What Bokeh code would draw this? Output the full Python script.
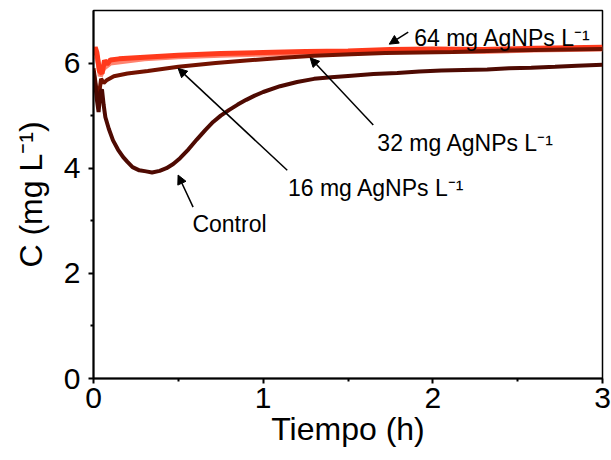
from bokeh.plotting import figure
from bokeh.models import Label, Arrow, NormalHead, FixedTicker, Range1d
from bokeh.embed import file_html
from bokeh.resources import INLINE

# ---- data ----
t_control = [0.00, 0.01, 0.02, 0.03, 0.04, 0.05, 0.06, 0.07, 0.09, 0.115, 0.145, 0.175, 0.20, 0.23,
             0.27, 0.31, 0.345, 0.39, 0.43, 0.47, 0.51, 0.56, 0.61, 0.66, 0.705, 0.75, 0.80, 0.85,
             0.90, 0.95, 1.00, 1.10, 1.20, 1.30, 1.40, 1.52, 1.65, 1.79, 1.92, 2.05, 2.18, 2.32,
             2.45, 2.58, 2.72, 2.85, 3.00]
c_control = [5.85, 5.60, 5.30, 5.07, 5.45, 5.50, 5.20, 4.97, 4.75, 4.53, 4.35, 4.21, 4.12, 4.02,
             3.96, 3.94, 3.92, 3.95, 4.00, 4.08, 4.19, 4.36, 4.55, 4.73, 4.88, 5.00, 5.11, 5.21,
             5.30, 5.38, 5.45, 5.56, 5.64, 5.70, 5.73, 5.76, 5.79, 5.81, 5.84, 5.86, 5.87, 5.88,
             5.90, 5.91, 5.93, 5.95, 5.97]

t_16 = [0.00, 0.015, 0.03, 0.045, 0.06, 0.08, 0.12, 0.20, 0.32, 0.50, 0.72, 0.90, 1.12, 1.30,
        1.52, 1.72, 1.92, 2.12, 2.32, 2.60, 2.80, 3.00]
c_16 = [5.90, 5.55, 5.35, 5.70, 5.62, 5.68, 5.75, 5.80, 5.85, 5.93, 6.00, 6.05, 6.10, 6.14,
        6.17, 6.19, 6.20, 6.21, 6.23, 6.25, 6.26, 6.27]

t_32 = [0.00, 0.02, 0.04, 0.06, 0.10, 0.30, 0.50, 0.75, 1.00, 1.25, 1.50, 1.75, 2.00, 2.30, 2.60, 3.00]
c_32 = [6.10, 6.15, 5.75, 5.90, 6.00, 6.08, 6.12, 6.15, 6.17, 6.19, 6.21, 6.22, 6.23, 6.22, 6.25, 6.27]

t_64 = [0.00, 0.01, 0.02, 0.035, 0.05, 0.065, 0.08, 0.10, 0.15, 0.30, 0.50, 0.75, 1.00, 1.25,
        1.50, 1.75, 2.00, 2.30, 2.60, 3.00]
c_64 = [6.15, 6.30, 6.20, 5.85, 5.80, 6.05, 5.98, 6.06, 6.08, 6.11, 6.15, 6.18, 6.20, 6.22,
        6.23, 6.26, 6.27, 6.26, 6.28, 6.30]

x_ticks = [0, 1, 2, 3]
y_ticks = [0, 2, 4, 6]

# annotations: (label, text x, text y, arrow tail x, tail y, arrow head x, head y)
ann_labels = ["64 mg AgNPs L\u207b\u00b9", "32 mg AgNPs L\u207b\u00b9", "16 mg AgNPs L\u207b\u00b9", "Control"]
ann_text_x = [1.89, 1.673, 1.146, 0.583]
ann_text_y = [6.48, 4.48, 3.62, 2.93]
arr_tail_x = [1.855, 1.649, 1.142, 0.587]
arr_tail_y = [6.59, 4.82, 3.96, 3.26]
arr_head_x = [1.743, 1.277, 0.4985, 0.4985]
arr_head_y = [6.36, 6.10, 5.90, 3.87]

FONT = "Liberation Sans"

p = figure(width=611, height=460, output_backend="svg", toolbar_location=None,
           x_range=Range1d(0, 3), y_range=Range1d(0, 7),
           min_border_left=93, min_border_right=9, min_border_top=10, min_border_bottom=82)
p.background_fill_color = "white"
p.border_fill_color = "white"
p.grid.visible = False
p.outline_line_color = "black"
p.outline_line_width = 1.5

p.line(t_32, c_32, color="#FF8470", line_width=5)
p.line(t_64, c_64, color="#FF3A1C", line_width=5)
p.line(t_16, c_16, color="#721200", line_width=4)
p.line(t_control, c_control, color="#4E0A02", line_width=4)

for ax in (p.xaxis[0], p.yaxis[0]):
    ax.axis_line_width = 2
    ax.major_tick_line_width = 2
    ax.minor_tick_line_width = 2
    ax.major_tick_out = 5
    ax.major_tick_in = 0
    ax.minor_tick_out = 3
    ax.minor_tick_in = 0
    ax.major_label_text_font = FONT
    ax.major_label_text_font_size = "30px"
    ax.major_label_text_color = "black"
    ax.axis_label_text_font = FONT
    ax.axis_label_text_font_size = "32px"
    ax.axis_label_text_font_style = "normal"
    ax.axis_label_text_color = "black"

p.xaxis.ticker = FixedTicker(ticks=x_ticks, minor_ticks=[0.5, 1.5, 2.5])
p.yaxis.ticker = FixedTicker(ticks=y_ticks, minor_ticks=[1, 3, 5])
p.xaxis.axis_label = "Tiempo (h)"
p.yaxis.axis_label = "C (mg L\u207b\u00b9)"
p.xaxis.major_label_standoff = 4
p.xaxis.axis_label_standoff = 0
p.yaxis.major_label_standoff = 8
p.yaxis.axis_label_standoff = 12

for i in range(len(ann_labels)):
    p.add_layout(Label(x=ann_text_x[i], y=ann_text_y[i], text=ann_labels[i],
                       text_font=FONT, text_font_size="23px", text_color="black",
                       text_baseline="alphabetic", text_align="left"))
    p.add_layout(Arrow(x_start=arr_tail_x[i], y_start=arr_tail_y[i],
                       x_end=arr_head_x[i], y_end=arr_head_y[i],
                       line_color="black", line_width=1.5,
                       end=NormalHead(size=9, fill_color="black", line_color="black")))

open("out.html", "w").write(file_html(p, INLINE))
